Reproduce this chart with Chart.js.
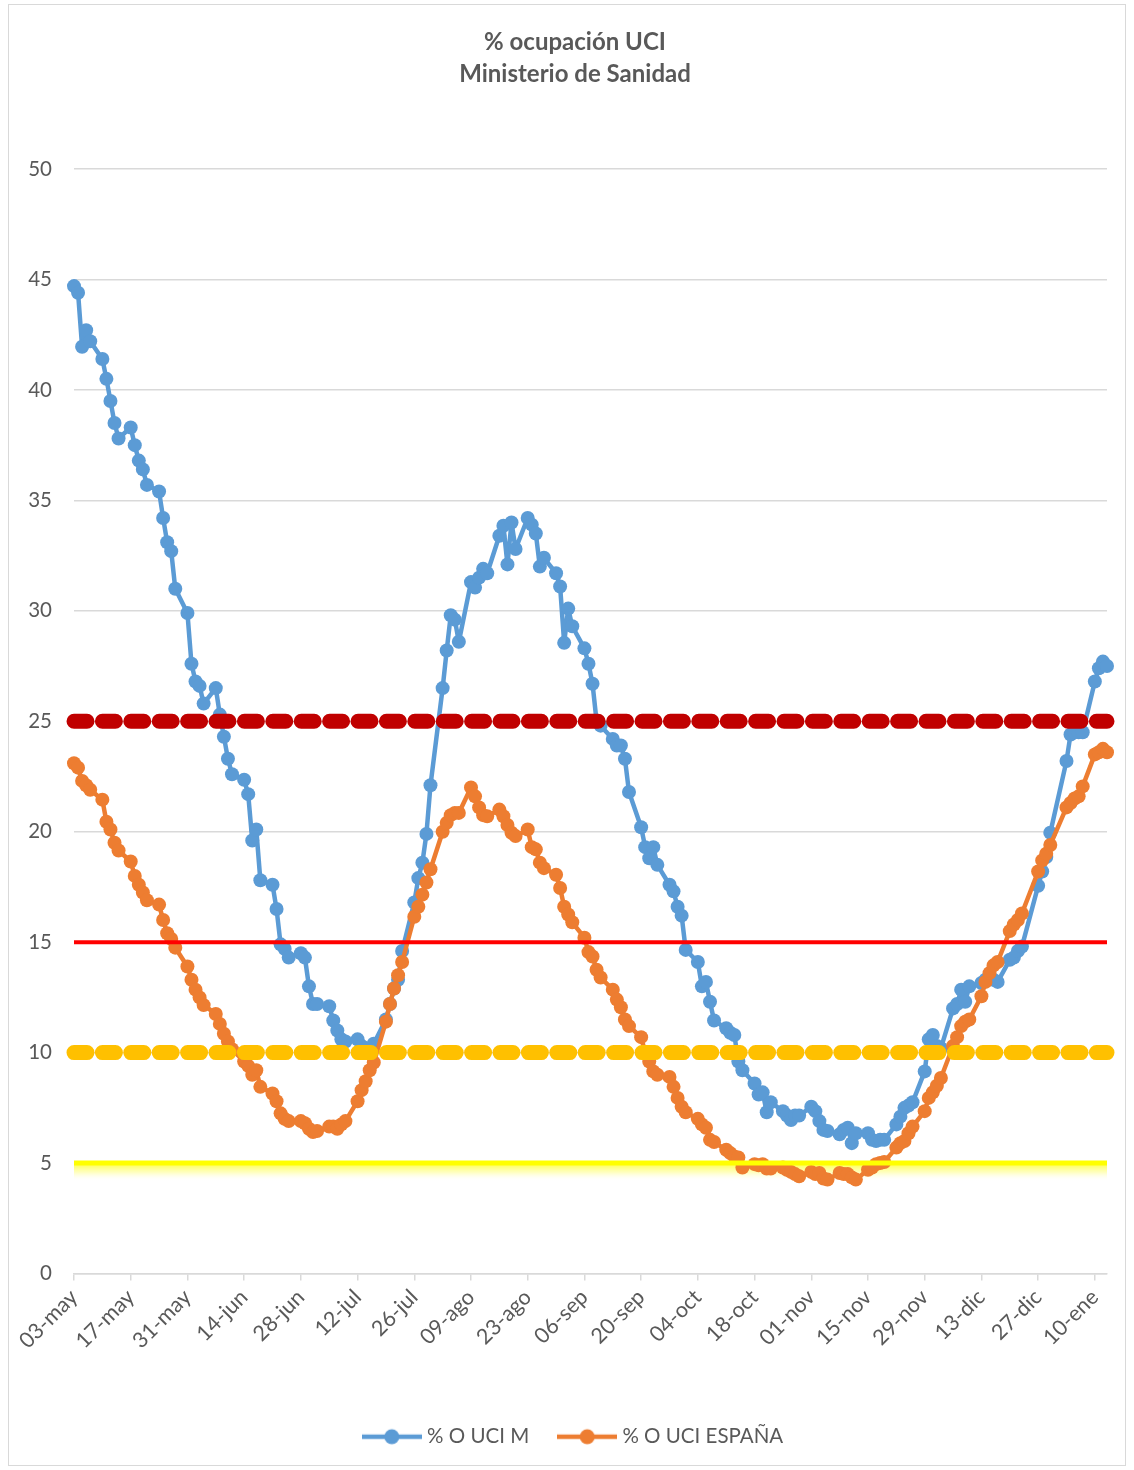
<!DOCTYPE html>
<html>
<head>
<meta charset="utf-8">
<script src="https://cdn.jsdelivr.net/npm/chart.js@4.4.1/dist/chart.umd.min.js"></script>
<style>
html,body{margin:0;padding:0;background:#fff;}
#wrap{position:absolute;left:0;top:0;width:1134px;height:1470px;}
</style>
</head>
<body>
<div id="wrap"><canvas id="c" width="1134" height="1470"></canvas></div>
<script>
// ---------- DATA ----------
const titulo = ['% ocupación UCI', 'Ministerio de Sanidad'];
const nombres = ['% O UCI M', '% O UCI ESPAÑA'];
// tick labels every 14 days, starting 03-may (day 0)
const etiquetasX = ['03-may','17-may','31-may','14-jun','28-jun','12-jul','26-jul','09-ago','23-ago',
  '06-sep','20-sep','04-oct','18-oct','01-nov','15-nov','29-nov','13-dic','27-dic','10-ene'];
const pasoEtiquetas = 14;     // days between tick labels
const ultimoDia = 255;        // 13-ene
const umbrales = [25, 15, 10, 5];
const _ = null;               // no report (weekends / holidays)

// one row per week: Mon..Sun
const uciMadrid = [
  44.7, 44.4, 41.95, 42.7, 42.2, _, _,
  41.4, 40.5, 39.5, 38.5, 37.8, _, _,
  38.3, 37.5, 36.8, 36.4, 35.7, _, _,
  35.4, 34.2, 33.1, 32.7, 31.0, _, _,
  29.9, 27.6, 26.8, 26.6, 25.8, _, _,
  26.5, 25.3, 24.3, 23.3, 22.6, _, _,
  22.35, 21.7, 19.6, 20.1, 17.8, _, _,
  17.6, 16.5, 14.9, 14.7, 14.3, _, _,
  14.5, 14.3, 13.0, 12.2, 12.2, _, _,
  12.1, 11.45, 11.0, 10.6, 10.5, _, _,
  10.6, 10.3, 10.2, 10.0, 10.4, _, _,
  11.5, 12.2, 12.9, 13.3, 14.6, _, _,
  16.8, 17.9, 18.6, 19.9, 22.1, _, _,
  26.5, 28.2, 29.8, 29.6, 28.6, _, _,
  31.3, 31.05, 31.5, 31.9, 31.7, _, _,
  33.4, 33.85, 32.1, 34.0, 32.8, _, _,
  34.2, 33.9, 33.5, 32.0, 32.4, _, _,
  31.7, 31.1, 28.55, 30.1, 29.3, _, _,
  28.3, 27.6, 26.7, 25.0, 24.8, _, _,
  24.2, 23.9, 23.9, 23.3, 21.8, _, _,
  20.2, 19.3, 18.8, 19.3, 18.5, _, _,
  17.6, 17.3, 16.6, 16.2, 14.65, _, _,
  14.1, 13.0, 13.2, 12.3, 11.45, _, _,
  11.1, 10.9, 10.8, 9.6, 9.2, _, _,
  8.6, 8.1, 8.2, 7.3, 7.75, _, _,
  7.35, 7.15, 6.95, 7.15, 7.15, _, _,
  7.55, 7.35, 6.9, 6.5, 6.45, _, _,
  6.3, 6.5, 6.6, 5.9, 6.35, _, _,
  6.35, 6.05, 6.0, 6.05, 6.05, _, _,
  6.75, 7.1, 7.5, 7.6, 7.75, _, _,
  9.15, 10.6, 10.8, 10.3, 10.2, _, _,
  12.0, 12.2, 12.85, 12.3, 13.0, _, _,
  13.15, 13.3, 13.4, 13.3, 13.2, _, _,
  14.2, 14.3, 14.6, 14.8, _, _, _,
  17.55, 18.2, 18.85, 19.95, _, _, _,
  23.2, 24.4, 24.5, 24.5, 24.5, _, _,
  26.8, 27.4, 27.7, 27.5
];
const uciEspana = [
  23.1, 22.9, 22.3, 22.1, 21.9, _, _,
  21.45, 20.45, 20.1, 19.5, 19.15, _, _,
  18.65, 18.0, 17.6, 17.25, 16.9, _, _,
  16.7, 16.0, 15.4, 15.15, 14.75, _, _,
  13.9, 13.3, 12.85, 12.5, 12.15, _, _,
  11.75, 11.3, 10.85, 10.5, 10.15, _, _,
  9.6, 9.4, 9.0, 9.2, 8.45, _, _,
  8.15, 7.8, 7.25, 7.0, 6.9, _, _,
  6.9, 6.8, 6.55, 6.4, 6.45, _, _,
  6.65, 6.65, 6.55, 6.75, 6.9, _, _,
  7.8, 8.3, 8.7, 9.2, 9.55, _, _,
  11.4, 12.2, 12.9, 13.5, 14.1, _, _,
  16.15, 16.6, 17.15, 17.7, 18.3, _, _,
  20.0, 20.4, 20.75, 20.85, 20.85, _, _,
  22.0, 21.6, 21.1, 20.75, 20.7, _, _,
  21.0, 20.7, 20.3, 19.95, 19.8, _, _,
  20.1, 19.3, 19.2, 18.6, 18.35, _, _,
  18.05, 17.45, 16.6, 16.25, 15.9, _, _,
  15.2, 14.55, 14.35, 13.75, 13.4, _, _,
  12.85, 12.4, 12.05, 11.5, 11.2, _, _,
  10.7, 10.0, 9.6, 9.15, 9.0, _, _,
  8.9, 8.45, 7.95, 7.55, 7.3, _, _,
  7.0, 6.75, 6.6, 6.05, 5.95, _, _,
  5.6, 5.45, 5.3, 5.25, 4.8, _, _,
  4.95, 4.9, 4.95, 4.75, 4.75, _, _,
  4.8, 4.7, 4.6, 4.5, 4.4, _, _,
  4.6, 4.5, 4.55, 4.3, 4.25, _, _,
  4.55, 4.5, 4.5, 4.35, 4.25, _, _,
  4.7, 4.8, 4.95, 5.0, 5.05, _, _,
  5.7, 5.9, 6.0, 6.35, 6.65, _, _,
  7.35, 7.95, 8.2, 8.5, 8.85, _, _,
  10.3, 10.7, 11.2, 11.4, 11.5, _, _,
  12.55, 13.2, 13.6, 13.95, 14.1, _, _,
  15.5, 15.8, 16.0, 16.3, _, _, _,
  18.2, 18.7, 19.0, 19.4, _, _, _,
  21.1, 21.3, 21.5, 21.6, 22.05, _, _,
  23.5, 23.6, 23.75, 23.6
];

// ---------- STYLE ----------
const AZUL = '#5B9BD5', NARANJA = '#ED7D31';
const estiloUmbral = [
  { color: '#C00000', width: 15, dash: [13, 15.4] },
  { color: '#FF0000', width: 4,  dash: [] },
  { color: '#FFC000', width: 15, dash: [13, 15.4] },
  { color: '#FFFF00', width: 5,  dash: [] }
];
const FONT = 'Lato, "Open Sans", "DejaVu Sans", sans-serif';
const GRIS = '#595959';

Chart.defaults.font.family = FONT;
Chart.defaults.color = GRIS;

const aPuntos = arr => arr.map((v, i) => ({ x: i, y: v }));

const datasetsUmbral = umbrales.map((u, k) => ({
  label: 'umbral ' + u,
  data: [{ x: 0, y: u }, { x: ultimoDia, y: u }],
  borderColor: estiloUmbral[k].color,
  borderWidth: estiloUmbral[k].width,
  borderDash: estiloUmbral[k].dash,
  borderCapStyle: estiloUmbral[k].dash.length ? 'round' : 'butt',
  pointRadius: 0, pointHoverRadius: 0,
  clip: false, order: 0, esUmbral: true
}));

function serie(label, data, color, order) {
  return {
    label, data: aPuntos(data),
    borderColor: color, backgroundColor: color,
    borderWidth: 4.5, tension: 0, spanGaps: true,
    borderJoinStyle: 'round', borderCapStyle: 'round',
    pointRadius: 7, pointHoverRadius: 7,
    pointBackgroundColor: color, pointBorderColor: color, pointBorderWidth: 0,
    clip: false, order
  };
}

function iconoLeyenda(color) {
  const c = document.createElement('canvas');
  c.width = 60; c.height = 18;
  const g = c.getContext('2d');
  g.strokeStyle = color; g.lineWidth = 4.5;
  g.beginPath(); g.moveTo(0, 9); g.lineTo(60, 9); g.stroke();
  g.fillStyle = color;
  g.beginPath(); g.arc(30, 9, 7.5, 0, Math.PI * 2); g.fill();
  return c;
}

const fondoYMarco = {
  id: 'fondoYMarco',
  beforeDraw(chart) {
    const ctx = chart.ctx;
    ctx.save();
    ctx.fillStyle = '#fff';
    ctx.fillRect(0, 0, chart.width, chart.height);
    ctx.strokeStyle = '#d9d9d9';
    ctx.lineWidth = 1;
    ctx.strokeRect(8.5, 4.5, chart.width - 17, chart.height - 9);
    ctx.restore();
  }
};

const brilloAmarillo = {
  id: 'brilloAmarillo',
  beforeDatasetsDraw(chart) {
    const ys = chart.scales.y, xs = chart.scales.x, ctx = chart.ctx;
    const y5 = ys.getPixelForValue(umbrales[3]);
    const x0 = xs.getPixelForValue(0), x1 = xs.getPixelForValue(ultimoDia);
    const g = ctx.createLinearGradient(0, y5 + 2, 0, y5 + 18);
    g.addColorStop(0, 'rgba(255,255,40,0.75)');
    g.addColorStop(0.45, 'rgba(255,255,110,0.45)');
    g.addColorStop(1, 'rgba(255,255,255,0)');
    ctx.save();
    ctx.fillStyle = g;
    ctx.fillRect(x0, y5 + 2, x1 - x0, 16);
    ctx.restore();
  }
};

new Chart(document.getElementById('c'), {
  type: 'line',
  data: {
    datasets: [
      ...datasetsUmbral,
      serie(nombres[0], uciMadrid, AZUL, 2),
      serie(nombres[1], uciEspana, NARANJA, 1)
    ]
  },
  plugins: [fondoYMarco, brilloAmarillo],
  options: {
    responsive: false,
    animation: false,
    devicePixelRatio: 1,
    layout: { padding: { top: 0, left: 16, right: 0, bottom: 13 } },
    plugins: {
      tooltip: { enabled: false },
      title: {
        display: true, text: titulo, color: GRIS,
        font: { size: 24, weight: 'bold', lineHeight: 32 / 24 },
        padding: { top: 26, bottom: 79 }
      },
      legend: {
        position: 'bottom',
        labels: {
          color: GRIS, font: { size: 20.5 },
          usePointStyle: true, pointStyleWidth: 50, padding: 33,
          generateLabels(chart) {
            const base = Chart.defaults.plugins.legend.labels.generateLabels(chart);
            return base
              .filter(it => !chart.data.datasets[it.datasetIndex].esUmbral)
              .sort((a, b) => a.datasetIndex - b.datasetIndex)
              .map(it => Object.assign(it, {
                pointStyle: iconoLeyenda(chart.data.datasets[it.datasetIndex].borderColor),
                fontColor: GRIS
              }));
          }
        }
      }
    },
    scales: {
      x: {
        type: 'linear', min: 0, max: ultimoDia, bounds: 'data',
        afterBuildTicks: s => { s.ticks = etiquetasX.map((t, i) => ({ value: i * pasoEtiquetas })); },
        afterFit: s => { s.height = 120; },
        grid: { drawOnChartArea: false, drawTicks: true, tickLength: 7, color: '#d9d9d9', lineWidth: 1.5 },
        border: { display: true, color: '#d9d9d9', width: 1.5 },
        ticks: {
          autoSkip: false, minRotation: 45, maxRotation: 45, padding: 4,
          color: GRIS, font: { size: 21.5 },
          callback: (v, i) => etiquetasX[i]
        }
      },
      y: {
        min: 0, max: 50,
        afterFit: s => { s.width = 58; },
        grid: { color: '#d9d9d9', lineWidth: 1.5, drawTicks: false },
        border: { display: false },
        ticks: { stepSize: 5, padding: 22, color: GRIS, font: { size: 20.5 } }
      },
      yDer: {
        position: 'right', min: 0, max: 50,
        afterFit: s => { s.width = 27; },
        grid: { display: false, drawTicks: false },
        border: { display: false },
        ticks: { display: false }
      }
    }
  }
});
</script>
</body>
</html>
